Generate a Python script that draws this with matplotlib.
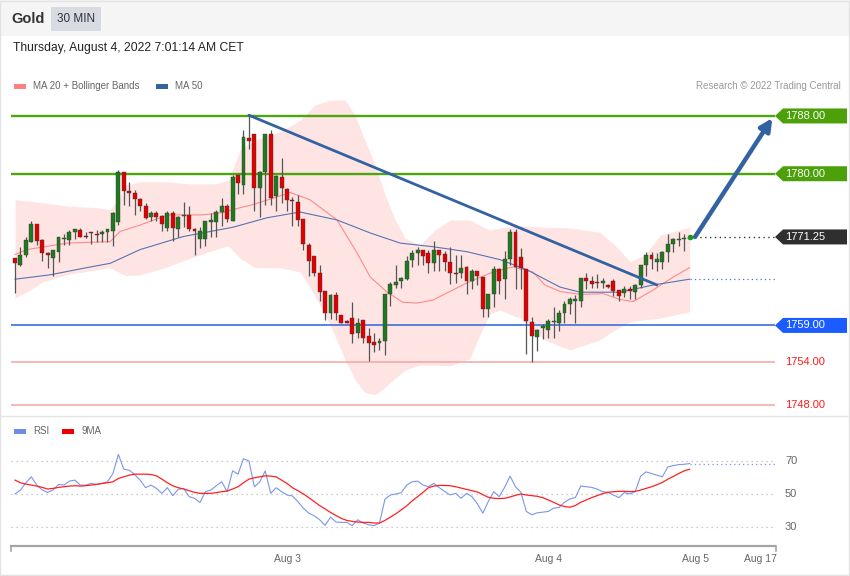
import matplotlib
matplotlib.use("Agg")
import matplotlib.pyplot as plt
import matplotlib.transforms as mtransforms
from matplotlib.patches import Polygon, Rectangle
from matplotlib.lines import Line2D

plt.rcParams['font.family'] = ['Liberation Sans', 'DejaVu Sans']

# 30 min candles, Gold
opens = [1768.3, 1767.4, 1768.8, 1770.6, 1773.0, 1770.8, 1769.0, 1768.4, 1769.1, 1770.9,
         1770.8, 1771.9, 1772.2, 1771.3, 1771.9, 1771.6, 1771.7, 1771.9, 1772.1, 1773.3,
         1780.3, 1777.6, 1777.4, 1776.5, 1775.6, 1774.0, 1774.6, 1774.1, 1772.5, 1774.6,
         1772.4, 1774.2, 1774.3, 1772.4, 1771.0, 1771.0, 1773.3, 1773.3, 1774.7, 1775.6,
         1773.5, 1779.8, 1778.5, 1785.0, 1785.5, 1778.0, 1780.3, 1785.5, 1776.9, 1779.6,
         1777.9, 1776.4, 1776.1, 1773.8, 1770.2, 1768.6, 1766.3, 1763.8, 1760.7, 1763.2,
         1760.4, 1759.6, 1760.0, 1757.9, 1759.7, 1757.6, 1756.7, 1756.5, 1756.8, 1763.4,
         1764.6, 1765.2, 1765.4, 1768.0, 1769.0, 1769.4, 1769.0, 1767.7, 1769.4, 1768.9,
         1767.8, 1766.3, 1766.2, 1767.1, 1765.1, 1766.5, 1765.7, 1761.3, 1763.3, 1766.8,
         1765.4, 1768.2, 1771.9, 1768.5, 1766.8, 1759.5, 1757.4, 1758.6, 1758.3, 1759.5,
         1759.4, 1760.7, 1761.9, 1762.4, 1762.4, 1765.5, 1765.2, 1765.0, 1764.9, 1764.6,
         1765.2, 1763.9, 1763.5, 1764.0, 1763.6, 1764.6, 1767.4, 1768.7, 1767.8, 1767.8,
         1769.2, 1770.3, 1770.8, 1771.0, 1771.0]
highs = [1768.4, 1769.8, 1771.2, 1773.4, 1773.1, 1770.9, 1769.1, 1769.5, 1771.3, 1771.7,
         1772.2, 1772.4, 1772.5, 1771.9, 1772.0, 1772.2, 1772.2, 1772.4, 1774.7, 1780.5,
         1780.3, 1778.8, 1777.7, 1776.6, 1776.0, 1774.8, 1774.8, 1774.3, 1774.8, 1774.8,
         1774.2, 1776.1, 1775.6, 1772.5, 1772.6, 1773.5, 1774.5, 1775.0, 1776.7, 1775.8,
         1779.8, 1779.8, 1786.1, 1788.2, 1785.5, 1780.4, 1785.5, 1786.1, 1779.8, 1782.2,
         1778.0, 1776.8, 1777.1, 1773.8, 1770.4, 1768.6, 1767.4, 1763.8, 1763.3, 1763.6,
         1760.4, 1759.7, 1762.2, 1760.0, 1759.7, 1758.6, 1758.0, 1757.3, 1763.4, 1765.0,
         1767.4, 1765.7, 1768.6, 1769.4, 1769.9, 1769.5, 1769.4, 1770.7, 1769.5, 1769.3,
         1769.8, 1768.7, 1768.7, 1767.2, 1766.8, 1766.6, 1765.7, 1763.3, 1767.2, 1767.0,
         1769.3, 1772.3, 1772.3, 1769.7, 1766.8, 1760.1, 1758.5, 1759.2, 1759.9, 1761.6,
         1761.2, 1762.4, 1762.9, 1763.2, 1765.6, 1766.3, 1765.8, 1766.1, 1765.5, 1764.7,
         1765.4, 1763.9, 1764.5, 1764.5, 1764.7, 1767.4, 1769.1, 1769.1, 1769.0, 1769.3,
         1771.6, 1771.1, 1772.0, 1771.6, 1771.4]
lows = [1763.5, 1767.2, 1768.5, 1770.5, 1770.2, 1767.9, 1766.9, 1765.8, 1767.8, 1770.1,
        1770.1, 1770.9, 1771.2, 1771.1, 1770.3, 1770.5, 1770.5, 1770.6, 1770.0, 1772.9,
        1775.7, 1775.5, 1774.3, 1774.9, 1773.7, 1773.4, 1773.4, 1772.1, 1772.1, 1770.7,
        1771.2, 1772.6, 1772.1, 1768.8, 1769.7, 1770.0, 1771.3, 1771.3, 1772.7, 1773.3,
        1773.4, 1777.2, 1777.2, 1783.4, 1774.8, 1774.0, 1775.7, 1775.7, 1774.8, 1776.0,
        1774.8, 1772.7, 1772.7, 1769.4, 1765.8, 1765.8, 1762.4, 1759.8, 1759.9, 1759.8,
        1759.3, 1759.3, 1756.6, 1757.2, 1756.6, 1754.1, 1755.3, 1755.6, 1754.9, 1761.7,
        1764.2, 1764.2, 1765.3, 1767.1, 1767.3, 1767.4, 1766.3, 1766.6, 1766.6, 1766.6,
        1764.8, 1764.9, 1765.5, 1763.4, 1764.1, 1764.6, 1760.1, 1760.2, 1761.6, 1763.3,
        1762.6, 1767.4, 1764.0, 1764.0, 1755.0, 1753.9, 1755.5, 1757.1, 1757.3, 1757.3,
        1758.2, 1759.4, 1760.6, 1759.3, 1761.5, 1764.0, 1764.2, 1764.2, 1764.2, 1764.2,
        1763.1, 1762.4, 1763.0, 1762.6, 1762.6, 1764.2, 1765.8, 1766.8, 1766.6, 1766.8,
        1767.8, 1769.1, 1770.0, 1769.3, 1770.9]
closes = [1767.6, 1768.7, 1770.8, 1773.0, 1770.7, 1769.0, 1768.7, 1769.4, 1771.2, 1771.1,
          1772.0, 1772.3, 1771.3, 1771.2, 1771.8, 1771.5, 1771.9, 1772.3, 1774.6, 1780.3,
          1777.6, 1777.3, 1776.5, 1775.6, 1773.9, 1774.6, 1774.0, 1773.0, 1774.5, 1772.5,
          1774.0, 1774.3, 1772.4, 1772.1, 1772.1, 1773.4, 1773.6, 1774.7, 1775.6, 1773.7,
          1779.5, 1778.7, 1785.1, 1784.6, 1778.0, 1780.3, 1785.5, 1776.7, 1779.7, 1778.0,
          1776.3, 1776.2, 1773.6, 1770.3, 1767.9, 1766.3, 1763.6, 1760.7, 1763.2, 1760.7,
          1759.4, 1759.4, 1757.8, 1759.4, 1757.3, 1756.5, 1756.3, 1756.8, 1763.4, 1764.8,
          1765.0, 1765.5, 1767.9, 1769.0, 1769.4, 1768.6, 1767.7, 1769.4, 1768.8, 1767.8,
          1766.2, 1766.1, 1766.9, 1765.1, 1766.5, 1765.8, 1761.3, 1763.3, 1766.8, 1765.1,
          1768.2, 1771.9, 1767.1, 1766.9, 1759.6, 1757.6, 1758.4, 1758.9, 1759.6, 1759.6,
          1760.7, 1761.9, 1762.6, 1762.6, 1765.5, 1765.2, 1764.7, 1764.9, 1765.1, 1764.3,
          1763.8, 1763.1, 1764.0, 1763.8, 1764.6, 1767.4, 1768.7, 1768.2, 1768.2, 1769.2,
          1770.3, 1770.9, 1771.0, 1771.1, 1771.25]

# Bollinger bands (candle index positions)
band_x = [0, 2.8, 5.0, 9.9, 15.1, 17.5, 18.9, 20.4, 23.0, 27.6, 32.2, 36.8, 39.2, 41.4,
          44.1, 48.7, 52.4, 55.1, 57.9, 60.7, 62.5, 64.3, 66.2, 68.0, 69.9, 71.7, 74.4,
          77.2, 80.0, 83.6, 85.5, 87.3, 89.2, 92.8, 97.4, 102.0, 107.5, 110.3, 113.1,
          115.8, 118.6, 124]
band_upper = [1776.4, 1776.2, 1776.0, 1775.5, 1775.3, 1775.0, 1776.4, 1778.4, 1778.9, 1778.9,
              1778.6, 1778.6, 1779.1, 1783.3, 1784.7, 1785.8, 1787.4, 1789.5, 1790.2, 1790.2,
              1788.1, 1784.7, 1781.2, 1777.1, 1773.6, 1771.1, 1770.1, 1772.2, 1773.6, 1773.6,
              1772.8, 1772.2, 1772.5, 1772.8, 1772.6, 1772.5, 1771.9, 1770.1, 1767.8, 1768.8,
              1771.5, 1772.6]
band_lower = [1762.8, 1763.9, 1765.0, 1766.1, 1766.7, 1767.0, 1766.4, 1765.9, 1766.0, 1767.0,
              1768.3, 1769.5, 1770.0, 1768.3, 1767.0, 1767.0, 1766.4, 1763.2, 1759.1, 1754.2,
              1751.5, 1749.7, 1749.4, 1750.4, 1751.7, 1752.8, 1753.5, 1753.5, 1753.4, 1754.4,
              1757.8, 1760.6, 1761.1, 1760.0, 1757.0, 1755.6, 1757.0, 1758.4, 1759.5, 1759.8,
              1760.0, 1760.9]

ma20_x = [0, 2.2, 9.6, 17.5, 19.3, 23.0, 28.1, 34.4, 38.0, 41.4, 43.6, 47.8, 50.6, 54.2,
          59.2, 62.9, 65.3, 68.4, 71.3, 73.9, 76.8, 83.1, 87.9, 91.5, 95.2, 97.4, 100.2,
          103.9, 108.1, 111.2, 113.6, 117.3, 121.0, 124]
ma20_y = [1768.8, 1769.5, 1770.4, 1770.6, 1772.0, 1772.9, 1774.3, 1774.3, 1774.6, 1775.3,
          1775.7, 1776.7, 1777.4, 1776.4, 1773.6, 1769.0, 1765.7, 1763.6, 1762.2, 1762.1,
          1762.5, 1764.9, 1766.4, 1767.1, 1766.4, 1764.6, 1763.7, 1763.3, 1763.4, 1762.6,
          1762.3, 1763.9, 1765.7, 1767.0]

ma50_x = [0, 6.4, 12.5, 17.5, 23.0, 30.9, 40.1, 46.3, 52.4, 59.2, 65.3, 70.8, 76.8, 83.1,
          89.2, 94.1, 100.2, 103.9, 111.2, 117.3, 124]
ma50_y = [1765.4, 1766.0, 1766.9, 1767.6, 1769.5, 1771.3, 1772.6, 1773.9, 1774.7, 1773.6,
          1771.8, 1770.4, 1769.9, 1769.2, 1768.1, 1766.7, 1764.3, 1763.6, 1763.6, 1764.6,
          1765.4]

rsi = [50, 52.4, 56.8, 60.4, 55.4, 52.4, 51, 52.4, 55.8, 55.4,
       57.8, 58.4, 55.4, 55.4, 56.4, 55.8, 56.4, 57.4, 62.4, 74,
       65, 64.4, 61.8, 58.4, 53.8, 55.4, 53.4, 50.4, 53.8, 49,
       52.8, 53.4, 48.4, 47.4, 44.8, 51.4, 52.4, 55, 57.4, 51.4,
       64, 62, 71.4, 70, 54.4, 57.4, 64, 50.4, 53.8, 51.4,
       49.4, 48.8, 45.4, 41.4, 38.4, 36.8, 34.4, 31, 36, 33,
       32.8, 32.8, 30.8, 34.4, 32.4, 31.4, 30.8, 32.4, 46.8, 49.4,
       50, 50.8, 55.4, 57.4, 57.8, 55.4, 54.4, 56.4, 53.8, 51.5,
       49.4, 50.4, 47.4, 50.4, 48.4, 44, 38.4, 45.4, 51.4, 48.4,
       54, 60.8, 54.4, 51, 39.4, 37.4, 38.6, 39, 39.4, 41.4,
       41.8, 45, 47, 47.8, 54.8, 54.4, 54, 53, 51.4, 51,
       49.4, 47.8, 50.8, 50, 51.4, 60.8, 63.4, 62.4, 61.4, 60.4,
       66.4, 67.2, 67.8, 68, 68.4]
rsi_ma9 = [58.4, 56.8, 56, 55.4, 54.8, 54, 53, 53.4, 54, 54.4,
           54.8, 55, 54.8, 55, 55.4, 55.8, 56.4, 56.8, 57.4, 59.4,
           60.4, 61.4, 62, 62, 62, 61.8, 61, 59, 56.8, 55,
           53.8, 53, 52, 51, 50.4, 50.4, 50.4, 50.8, 51.4, 51.8,
           53, 54.4, 56.8, 59, 59.8, 60.4, 61, 60.8, 60.4, 58.4,
           56.4, 53.8, 52, 50, 47.8, 45.4, 43, 41, 38.8, 37,
           35.2, 34, 33.4, 33, 32.8, 32.8, 32.4, 32.4, 34, 36,
           38, 40.4, 42.8, 45.8, 48.4, 51, 53.8, 54.8, 55.2, 55.2,
           55, 54.4, 53.6, 52.8, 52, 51.2, 49.6, 48, 47.4, 47.2,
           47.4, 48.2, 49.2, 50, 49.4, 49, 48.6, 47.8, 46.4, 45,
           43.4, 42.4, 42, 43, 45, 46.4, 47.8, 49, 50.2, 51,
           51.4, 51.6, 51.6, 51.4, 51.6, 52.4, 53.4, 54.4, 55.6, 57,
           59, 60.6, 62.4, 64, 65]

# analyst drawings
trend_line = [(43.0, 1788.1), (118.0, 1764.6)]
target_arrow = [(125.0, 1771.25), (139.2, 1787.7)]
resistances = [1788.00, 1780.00]
pivot = 1759.00
supports = [1754.00, 1748.00]
last_price = 1771.25

date_ticks = [50, 98, 125, 137]
date_labels = ['Aug 3', 'Aug 4', 'Aug 5', 'Aug 17']

W, H = 850, 576
fig = plt.figure(figsize=(W / 100, H / 100), dpi=100)


def fx(px):
    return px / W


def fy(py):
    return 1 - py / H


def ftext(px, py, s, **kw):
    kw.setdefault('va', 'center')
    fig.text(fx(px), fy(py), s, **kw)


# header
fig.patches.append(Rectangle((0, fy(36)), 1, 36 / H, transform=fig.transFigure,
                             facecolor='#f5f5f5', edgecolor='none', zorder=0))
fig.patches.append(Rectangle((fx(51), fy(31)), 50 / W, 24 / H, transform=fig.transFigure,
                             facecolor='#d8dbe2', edgecolor='none', zorder=1))
fig.patches.append(Rectangle((0.0005, 0.001), 0.998, 0.998, transform=fig.transFigure,
                             facecolor='none', edgecolor='#e2e2e2', lw=1, zorder=0))
fig.lines.append(Line2D([0, 1], [fy(416), fy(416)], transform=fig.transFigure,
                        color='#e4e4e4', lw=1))
ftext(11, 19, 'Gold', fontsize=10.5, fontweight='bold', color='#333333')
ftext(76, 19, '30 MIN', fontsize=8.5, color='#333333', ha='center')
ftext(13, 48, 'Thursday, August 4, 2022 7:01:14 AM CET', fontsize=8.7, color='#222222')

# legends
fig.patches.append(Rectangle((fx(14), fy(89)), 12 / W, 5 / H, transform=fig.transFigure,
                             facecolor='#ff8080', edgecolor='none'))
ftext(33, 86, 'MA 20 + Bollinger Bands', fontsize=7, color='#666666')
fig.patches.append(Rectangle((fx(156), fy(89)), 12 / W, 5 / H, transform=fig.transFigure,
                             facecolor='#3562a3', edgecolor='none'))
ftext(175, 86, 'MA 50', fontsize=7, color='#666666')
ftext(841, 86, 'Research \u00a9 2022 Trading Central', fontsize=7, color='#999999', ha='right')

fig.patches.append(Rectangle((fx(14), fy(434)), 12 / W, 5 / H, transform=fig.transFigure,
                             facecolor='#6f8de6', edgecolor='none'))
ftext(33, 431, 'RSI', fontsize=7, color='#666666')
fig.patches.append(Rectangle((fx(62), fy(434)), 12 / W, 5 / H, transform=fig.transFigure,
                             facecolor='#ee0000', edgecolor='none'))
ftext(82, 431, '9MA', fontsize=7, color='#666666')

# main price panel
xmin, xmax = -0.735, 139.7
ymin, ymax = 1746.6, 1790.9
ax = fig.add_axes([fx(11), fy(415), fx(775) - fx(11), (415 - 95) / H])
ax.set_xlim(xmin, xmax)
ax.set_ylim(ymin, ymax)
ax.axis('off')

ax.fill_between(band_x, band_lower, band_upper, color='#ffe4e4', lw=0, zorder=1)
ax.plot(ma20_x, ma20_y, color='#ff8a8a', lw=0.8, zorder=2)
ax.plot(ma50_x, ma50_y, color='#5574b4', lw=0.8, zorder=2)
ax.plot([ma50_x[-1], xmax], [ma50_y[-1]] * 2, color='#5574b4', lw=0.9, ls=(0, (1, 2.5)), zorder=2)

for r in resistances:
    ax.axhline(r, color='#4ea60e', lw=1.7, zorder=2)
ax.axhline(pivot, color='#3b6fdc', lw=1.2, zorder=2)
for s in supports:
    ax.axhline(s, color='#f5a5a5', lw=1.1, zorder=2)

idx = list(range(len(closes)))
body_col = ['#1f7a1f' if c >= o else '#e00000' for o, c in zip(opens, closes)]
bottoms = [min(o, c) for o, c in zip(opens, closes)]
heights = [max(abs(c - o), 0.15) for o, c in zip(opens, closes)]
ax.vlines(idx, lows, highs, color='#555555', lw=0.9, zorder=3)
ax.bar(idx, heights, bottom=bottoms, width=0.72, color=body_col,
       edgecolor='#3a3a3a', linewidth=0.3, zorder=4)

ax.plot([p[0] for p in trend_line], [p[1] for p in trend_line], color='#3362a3', lw=2.0,
        solid_capstyle='round', zorder=5)
ax.annotate('', xy=target_arrow[1], xytext=target_arrow[0],
            arrowprops=dict(arrowstyle='-|>', color='#3362a3', lw=3.2, mutation_scale=18,
                            shrinkA=0, shrinkB=0), zorder=5)
ax.plot([idx[-1], xmax], [last_price] * 2, color='#333333', lw=1, ls=(0, (1, 2.5)), zorder=3)
ax.plot(idx[-1], last_price, 'o', color='#1a9a1a', ms=3, zorder=6)

# right side price tags
tr = mtransforms.blended_transform_factory(fig.transFigure, ax.transData)
hh = 7.5 * (ymax - ymin) / (415 - 95)


def tag(price, face, text_col='white'):
    pts = [(fx(775), price), (fx(783), price + hh), (fx(847), price + hh),
           (fx(847), price - hh), (fx(783), price - hh)]
    ax.add_patch(Polygon(pts, closed=True, transform=tr, facecolor=face,
                         edgecolor='none', clip_on=False, zorder=6))
    ax.text(fx(785), price, '%.2f' % price, transform=tr, color=text_col, fontsize=8,
            va='center', ha='left', clip_on=False, zorder=7)


for r in resistances:
    tag(r, '#4ca10a')
tag(last_price, '#2f2f2f')
tag(pivot, '#1a5cff')
for s in supports:
    ax.text(fx(785), s, '%.2f' % s, transform=tr, color='#ff1a1a', fontsize=8,
            va='center', ha='left', clip_on=False)

# RSI panel
ax2 = fig.add_axes([fx(11), fy(546), fx(775) - fx(11), (546 - 440) / H])
ax2.set_xlim(xmin, xmax)
ax2.set_ylim(18.5, 82.7)
for sp in ['top', 'right', 'left']:
    ax2.spines[sp].set_visible(False)
ax2.spines['bottom'].set_color('#a5a5a5')
ax2.spines['bottom'].set_linewidth(1.6)
ax2.set_yticks([])
ax2.set_xticks(date_ticks, date_labels)
ax2.tick_params(axis='x', length=0, pad=6, labelsize=7.5, labelcolor='#666666')
tr2 = mtransforms.blended_transform_factory(fig.transFigure, ax2.transData)
for lvl in [30, 50, 70]:
    ax2.axhline(lvl, color='#bbbbbb', lw=0.9, ls=(0, (1, 3)))
    ax2.text(fx(785), lvl, str(lvl), transform=tr2, color='#666666', fontsize=8,
             va='center', ha='left', clip_on=False)
ax2.plot(idx, rsi, color='#7b96e8', lw=0.8)
ax2.plot(idx, rsi_ma9, color='#ff2020', lw=0.9)
ax2.plot([idx[-1], xmax], [rsi[-1]] * 2, color='#7b96e8', lw=0.9, ls=(0, (1, 2.5)))
for ex in [fx(11), fx(776)]:
    fig.lines.append(Line2D([ex, ex], [fy(546), fy(551)], transform=fig.transFigure,
                            color='#a5a5a5', lw=1.2))

fig.savefig('out.png', dpi=100)
